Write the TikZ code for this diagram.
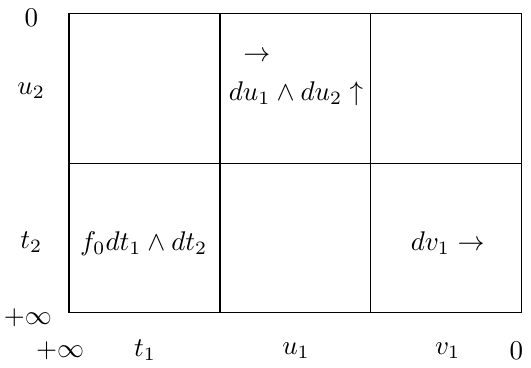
\documentclass[tikz,border=0pt]{standalone}
\usepackage{amsmath}
\usepackage{amssymb}
\usepackage{tikz}
\usetikzlibrary{positioning}

\begin{document}
\begin{tikzpicture}[
    x=1cm, y=1cm,
    grid/.style={draw, line width=0.5pt},
    lab/.style={inner sep=1pt, anchor=center, scale=1.12},
    cell/.style={inner sep=1pt, anchor=center, scale=1.12}
]
\useasboundingbox (-1.006,-0.80) rectangle (6.735,4.56);

% the six cells
\draw[grid] (0,0) rectangle (6.6,4.36);
\draw[grid] (2.2,0) -- (2.2,4.36);
\draw[grid] (4.4,0) -- (4.4,4.36);
\draw[grid] (0,2.18) -- (6.6,2.18);

% left axis
\node[lab] (top0) at (-0.55,4.30) {$0$};
\node[lab] (u2) at (-0.55,3.24) {$u_2$};
\node[lab] (t2) at (-0.55,1.03) {$t_2$};
\node[lab] (inf2) at (-0.60,-0.07) {$+\infty$};

% bottom axis
\node[lab] (inf1) at (-0.13,-0.55) {$+\infty$};
\node[lab] (t1) at (1.11,-0.55) {$t_1$};
\node[lab] (u1) at (3.31,-0.55) {$u_1$};
\node[lab] (v1) at (5.52,-0.55) {$v_1$};
\node[lab] (end0) at (6.52,-0.55) {$0$};

% cell contents
\node[cell] (uarr) at (2.74,3.74) {$\rightarrow$};
\node[cell] (du) at (3.31,3.20) {$du_1\wedge du_2\uparrow$};
\node[cell] (f0) at (1.09,1.01) {$f_0dt_1\wedge dt_2$};
\node[cell] (dv) at (5.52,1.01) {$dv_1\rightarrow$};

\end{tikzpicture}
\end{document}
